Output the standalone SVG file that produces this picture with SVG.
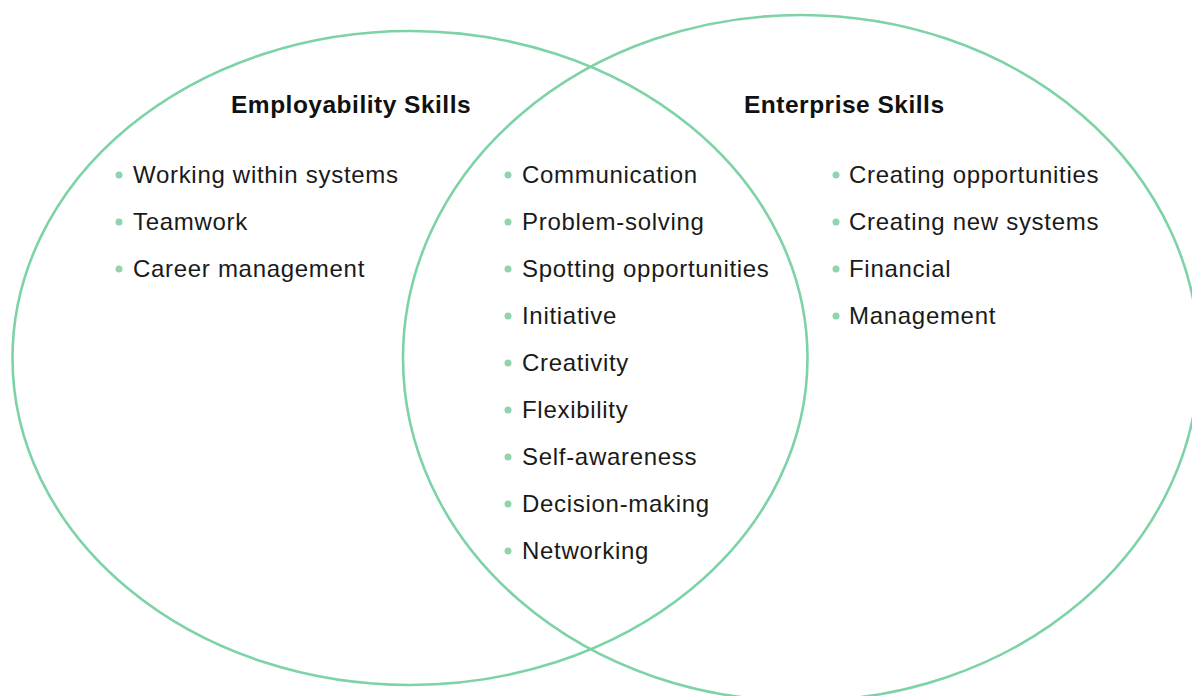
<svg xmlns="http://www.w3.org/2000/svg" width="1192" height="696" viewBox="0 0 1192 696">
<style>
.ring{fill:none;stroke:#7dd3a6;stroke-width:2.6}
.hd{font-family:"Liberation Sans",Arial,sans-serif;font-weight:bold;font-size:24.5px;fill:#111;letter-spacing:0.5px}
.it{font-family:"Liberation Sans",Arial,sans-serif;font-size:24px;fill:#1a1a1a;letter-spacing:0.7px}
.dot{fill:#8fd4ae}
</style>
<rect width="1192" height="696" fill="#fff"/>
<g id="employability">
<ellipse class="ring" cx="410" cy="358" rx="397.5" ry="327"/>
<text class="hd" x="231" y="113">Employability Skills</text>
<circle class="dot" cx="119" cy="175" r="3.5"/><text class="it" x="133" y="183">Working within systems</text>
<circle class="dot" cx="119" cy="222" r="3.5"/><text class="it" x="133" y="230">Teamwork</text>
<circle class="dot" cx="119" cy="269" r="3.5"/><text class="it" x="133" y="277">Career management</text>
</g>
<g id="enterprise">
<ellipse class="ring" cx="801" cy="358" rx="398" ry="343"/>
<text class="hd" x="744" y="113">Enterprise Skills</text>
<circle class="dot" cx="836" cy="175" r="3.5"/><text class="it" x="849" y="183">Creating opportunities</text>
<circle class="dot" cx="836" cy="222" r="3.5"/><text class="it" x="849" y="230">Creating new systems</text>
<circle class="dot" cx="836" cy="269" r="3.5"/><text class="it" x="849" y="277">Financial</text>
<circle class="dot" cx="836" cy="316" r="3.5"/><text class="it" x="849" y="324">Management</text>
</g>
<g id="shared">
<circle class="dot" cx="508" cy="175" r="3.5"/><text class="it" x="522" y="183">Communication</text>
<circle class="dot" cx="508" cy="222" r="3.5"/><text class="it" x="522" y="230">Problem-solving</text>
<circle class="dot" cx="508" cy="269" r="3.5"/><text class="it" x="522" y="277">Spotting opportunities</text>
<circle class="dot" cx="508" cy="316" r="3.5"/><text class="it" x="522" y="324">Initiative</text>
<circle class="dot" cx="508" cy="363" r="3.5"/><text class="it" x="522" y="371">Creativity</text>
<circle class="dot" cx="508" cy="410" r="3.5"/><text class="it" x="522" y="418">Flexibility</text>
<circle class="dot" cx="508" cy="457" r="3.5"/><text class="it" x="522" y="465">Self-awareness</text>
<circle class="dot" cx="508" cy="504" r="3.5"/><text class="it" x="522" y="512">Decision-making</text>
<circle class="dot" cx="508" cy="551" r="3.5"/><text class="it" x="522" y="559">Networking</text>
</g>
<g id="connectors"></g>
</svg>
